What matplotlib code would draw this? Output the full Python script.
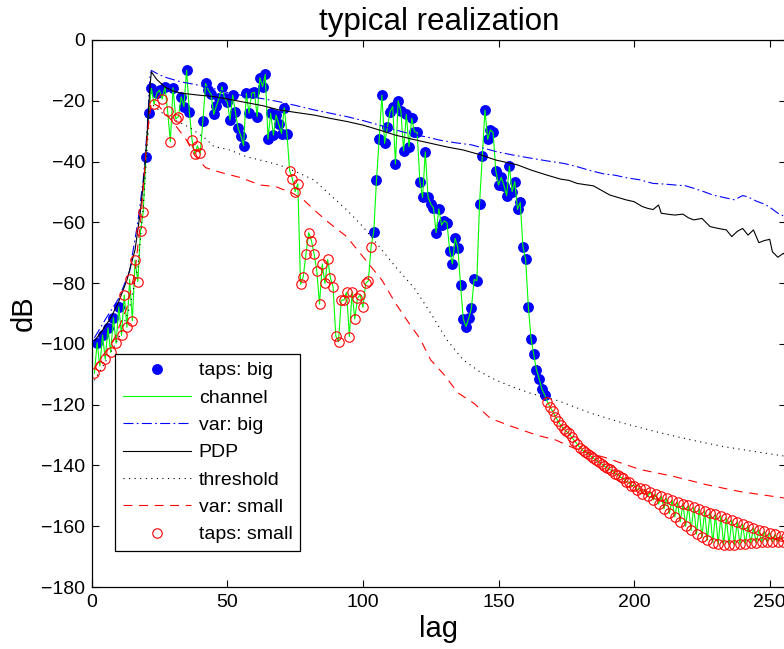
import numpy as np
import matplotlib
matplotlib.use("Agg")
import matplotlib.pyplot as plt

plt.rcParams['font.family'] = ['Liberation Sans', 'DejaVu Sans']

# channel taps (dB) at lags 1..256
lags = np.arange(1, 257)
taps_db = [
    -109.7, -99.6, -107.3, -97.1, -105.1, -94.7, -102.8, -91.4, -99.8, -87.8,
    -97.2, -83.9, -94.5, -78.8, -92.4, -72.4, -79.5, -63.0, -56.5, -38.4,
    -24.1, -15.9, -21.2, -17.5, -16.5, -19.4, -15.4, -23.4, -33.5, -15.7,
    -26.0, -25.2, -18.7, -21.9, -9.9, -23.6, -32.9, -37.5, -34.8, -37.3,
    -26.7, -14.3, -16.5, -17.9, -24.5, -21.6, -19.0, -15.4, -19.2, -20.5,
    -26.3, -18.1, -23.8, -29.1, -31.5, -34.8, -17.5, -24.1, -17.5, -17.2,
    -25.2, -12.4, -15.4, -11.3, -32.6, -24.1, -31.3, -24.7, -27.7, -30.8,
    -22.3, -30.9, -43.1, -45.7, -49.9, -47.3, -80.4, -77.9, -70.4, -63.4,
    -66.0, -70.4, -76.0, -86.9, -73.7, -80.1, -72.2, -78.2, -81.2, -97.4,
    -99.3, -85.6, -85.6, -83.0, -97.6, -83.0, -91.8, -85.0, -83.9, -88.0,
    -80.1, -79.3, -68.0, -63.1, -46.1, -32.7, -18.1, -34.0, -28.7, -23.6,
    -21.9, -40.8, -20.0, -23.4, -36.4, -24.5, -35.1, -25.8, -30.2, -30.4,
    -46.6, -51.8, -36.8, -51.6, -54.0, -55.2, -63.4, -55.6, -60.9, -59.5,
    -60.1, -69.3, -73.7, -65.3, -68.3, -80.6, -91.8, -94.3, -91.6, -88.3,
    -78.8, -79.2, -54.0, -38.2, -23.0, -32.7, -29.6, -30.4, -43.0, -47.7,
    -45.2, -47.9, -51.2, -41.5, -49.9, -46.6, -55.7, -53.4, -68.0, -72.2,
    -87.8, -98.4, -103.4, -108.6, -111.5, -114.9, -116.8, -119.0, -120.8, -122.2,
    -124.0, -125.5, -126.8, -128.0, -128.8, -129.4, -130.7, -131.9, -133.0, -134.1,
    -135.0, -135.6, -136.1, -136.9, -137.6, -138.3, -138.9, -139.5, -140.2, -140.7,
    -141.3, -141.8, -142.7, -143.0, -143.9, -144.2, -145.3, -145.5, -146.6, -146.6,
    -148.0, -147.5, -149.3, -147.9, -150.2, -148.7, -151.4, -149.5, -152.7, -150.2,
    -154.3, -150.8, -155.8, -151.4, -156.9, -152.1, -158.5, -152.6, -160.0, -153.1,
    -161.4, -153.7, -162.6, -154.3, -163.7, -154.9, -164.6, -155.5, -165.4, -156.1,
    -165.8, -156.6, -166.1, -157.2, -166.2, -157.9, -166.1, -158.6, -165.9, -159.3,
    -165.7, -159.9, -165.6, -160.5, -165.4, -161.2, -165.3, -161.7, -165.2, -162.2,
    -165.1, -162.7, -165.1, -163.1, -165.1, -163.5,
]

# lags classified as "big" taps, the rest are "small"
big_lags = [2, 4, 6, 8, 10, 20, 21, 22, 24, 25, 27, 30, 33, 34, 35, 36] \
    + list(range(41, 73)) + list(range(104, 168))

# power delay profile
pdp_lag = [1, 4, 7, 10, 13, 16, 18, 19.5, 20.5, 21.5, 22, 24, 27, 30, 33, 40, 45, 50,
           57, 63, 69, 75, 82, 88, 94, 100, 106, 112, 118, 125, 131, 137, 143, 149,
           153, 157, 162, 168, 173, 176, 179, 182, 185, 188, 191, 194, 197, 200, 203,
           205, 207, 209, 210, 213, 215, 218, 220, 222, 225, 228, 231, 234, 236, 238,
           240, 242, 244, 246, 248, 250, 251, 253, 255, 256]
pdp_db = [-99, -95.5, -91.5, -86, -79, -69, -56, -43, -30, -15, -10.5, -13, -15.5,
          -16.8, -17.5, -18.2, -18.6, -19.4, -20.6, -21.6, -23, -23.8, -24.7, -25.8,
          -26.8, -28, -29.6, -31.3, -32.6, -34, -35.2, -36.2, -37.7, -39.5, -40.3,
          -41.1, -42.8, -44.5, -45.8, -46.2, -47.2, -47.6, -48, -49.5, -51, -51.8,
          -52.6, -53.2, -54.8, -55.4, -55.8, -54.3, -57, -57.4, -57.6, -57.3, -58.5,
          -59.2, -58.7, -61.4, -62, -62.5, -64.7, -63, -62, -64.2, -62.5, -66.7, -66,
          -65.6, -69.7, -71.5, -70.2, -71]

# variance of big taps
vbig_lag = [1, 5, 10, 14, 17, 19, 20.5, 21.5, 22, 25, 28, 33, 39, 45, 51, 57, 63, 69,
            75, 82, 88, 94, 100, 106, 112, 118, 124, 128, 134, 140, 145, 149, 155,
            162, 168, 174, 179, 184, 189, 193, 197, 202, 207, 211, 215, 219, 222, 226,
            229, 233, 237, 240, 242, 245, 248, 250, 253, 256]
vbig_db = [-98, -92, -85, -76, -60, -46, -29, -12, -10, -11.5, -12.5, -13.8, -14.8,
           -16, -17.5, -18.5, -19.3, -20.3, -21.5, -23, -24.1, -25.2, -26.5, -28,
           -29.6, -31, -32, -32.9, -33.8, -34.5, -35.7, -36.7, -37.8, -38.9, -39.8,
           -40.6, -41.7, -43, -44.1, -44.5, -45.3, -46, -47.2, -47.4, -47.7, -48,
           -48.8, -50, -51, -51.8, -52.6, -51.2, -51.6, -53, -54, -55, -57, -58.3]

# detection threshold
thr_lag = [1, 5, 10, 14, 17, 19, 20.5, 21.5, 22, 26, 31, 36, 42, 45, 51, 57, 63, 69,
           75, 82, 88, 94, 100, 106, 112, 119, 125, 131, 137, 143, 149, 155, 162, 172,
           184, 196, 208, 221, 233, 245, 256]
thr_db = [-112, -106, -98, -88, -75, -55, -35, -22, -21, -24, -26.5, -28.7, -32.5,
          -35, -36.2, -38.4, -39.7, -41.1, -43.2, -46.1, -51, -55.9, -61.4, -68,
          -74.6, -81.7, -89.9, -98.7, -105.3, -109.1, -111.9, -114.1, -116.3, -118.7,
          -122.8, -126.1, -128.9, -131.6, -133.8, -135.5, -137]

# variance of small taps
vsmall_lag = [1, 4, 8, 13, 16, 18, 20, 21, 22, 25, 30, 35, 38, 42, 48, 55, 62, 68, 74,
              78, 82, 87, 94, 100, 107, 112, 117, 121, 125, 130, 135, 141, 147, 155,
              164, 171, 178, 190, 202, 214, 227, 239, 256]
vsmall_db = [-108, -104, -99, -88, -76, -60, -37, -27, -20.5, -22, -27, -33, -38, -42,
             -43.7, -45.3, -47.7, -48.3, -50.4, -52.5, -55.9, -59.8, -64.7, -71.3, -79,
             -86.6, -93.2, -98.2, -105.3, -110.2, -116.1, -119.6, -124.5, -127.2, -130,
             -131.6, -134.4, -137.6, -141.3, -143.5, -146.4, -148.6, -150.8]

taps_db = np.array(taps_db)
is_big = np.isin(lags, big_lags)

fig = plt.figure(figsize=(7.84, 6.49), dpi=100)
ax = fig.add_axes([91.7 / 784, 62 / 649, 694.3 / 784, 547 / 649])

ax.plot(lags[is_big], taps_db[is_big], 'o', color='b', markersize=6.8,
        markeredgecolor='b', label='taps: big')
ax.plot(lags, taps_db, '-', color='#00ff00', linewidth=0.8, label='channel')
ax.plot(vbig_lag, vbig_db, color='b', linestyle=(0, (9, 3, 1.5, 3)),
        linewidth=0.8, label='var: big')
ax.plot(pdp_lag, pdp_db, '-', color='k', linewidth=0.8, label='PDP')
ax.plot(thr_lag, thr_db, color='k', linestyle=(0, (1, 4)), linewidth=0.8,
        label='threshold')
ax.plot(vsmall_lag, vsmall_db, color='r', linestyle=(0, (8, 6)), linewidth=0.8,
        label='var: small')
ax.plot(lags[~is_big], taps_db[~is_big], 'o', color='r', markersize=6.8,
        markerfacecolor='none', markeredgewidth=0.8, label='taps: small')

ax.set_xlim(0, 256)
ax.set_ylim(-180, 0)
ax.set_xticks([0, 50, 100, 150, 200, 250])
ax.set_yticks(np.arange(-180, 1, 20))
ax.tick_params(direction='in', top=True, right=True, labelsize=14, length=5, pad=5)
for s in ax.spines.values():
    s.set_linewidth(0.9)

ax.set_title('typical realization', fontsize=22.5, pad=7)
ax.set_xlabel('lag', fontsize=21, labelpad=3)
ax.set_ylabel('dB', fontsize=21, labelpad=2)

leg = ax.legend(loc='upper left', bbox_to_anchor=(0.0336, 0.426), fontsize=14,
                fancybox=False, edgecolor='k', framealpha=1, handlelength=3.5,
                handletextpad=0.4, labelspacing=0.5, borderaxespad=0,
                borderpad=0.4)
leg.get_frame().set_linewidth(0.9)

fig.savefig('out.png', dpi=100)
